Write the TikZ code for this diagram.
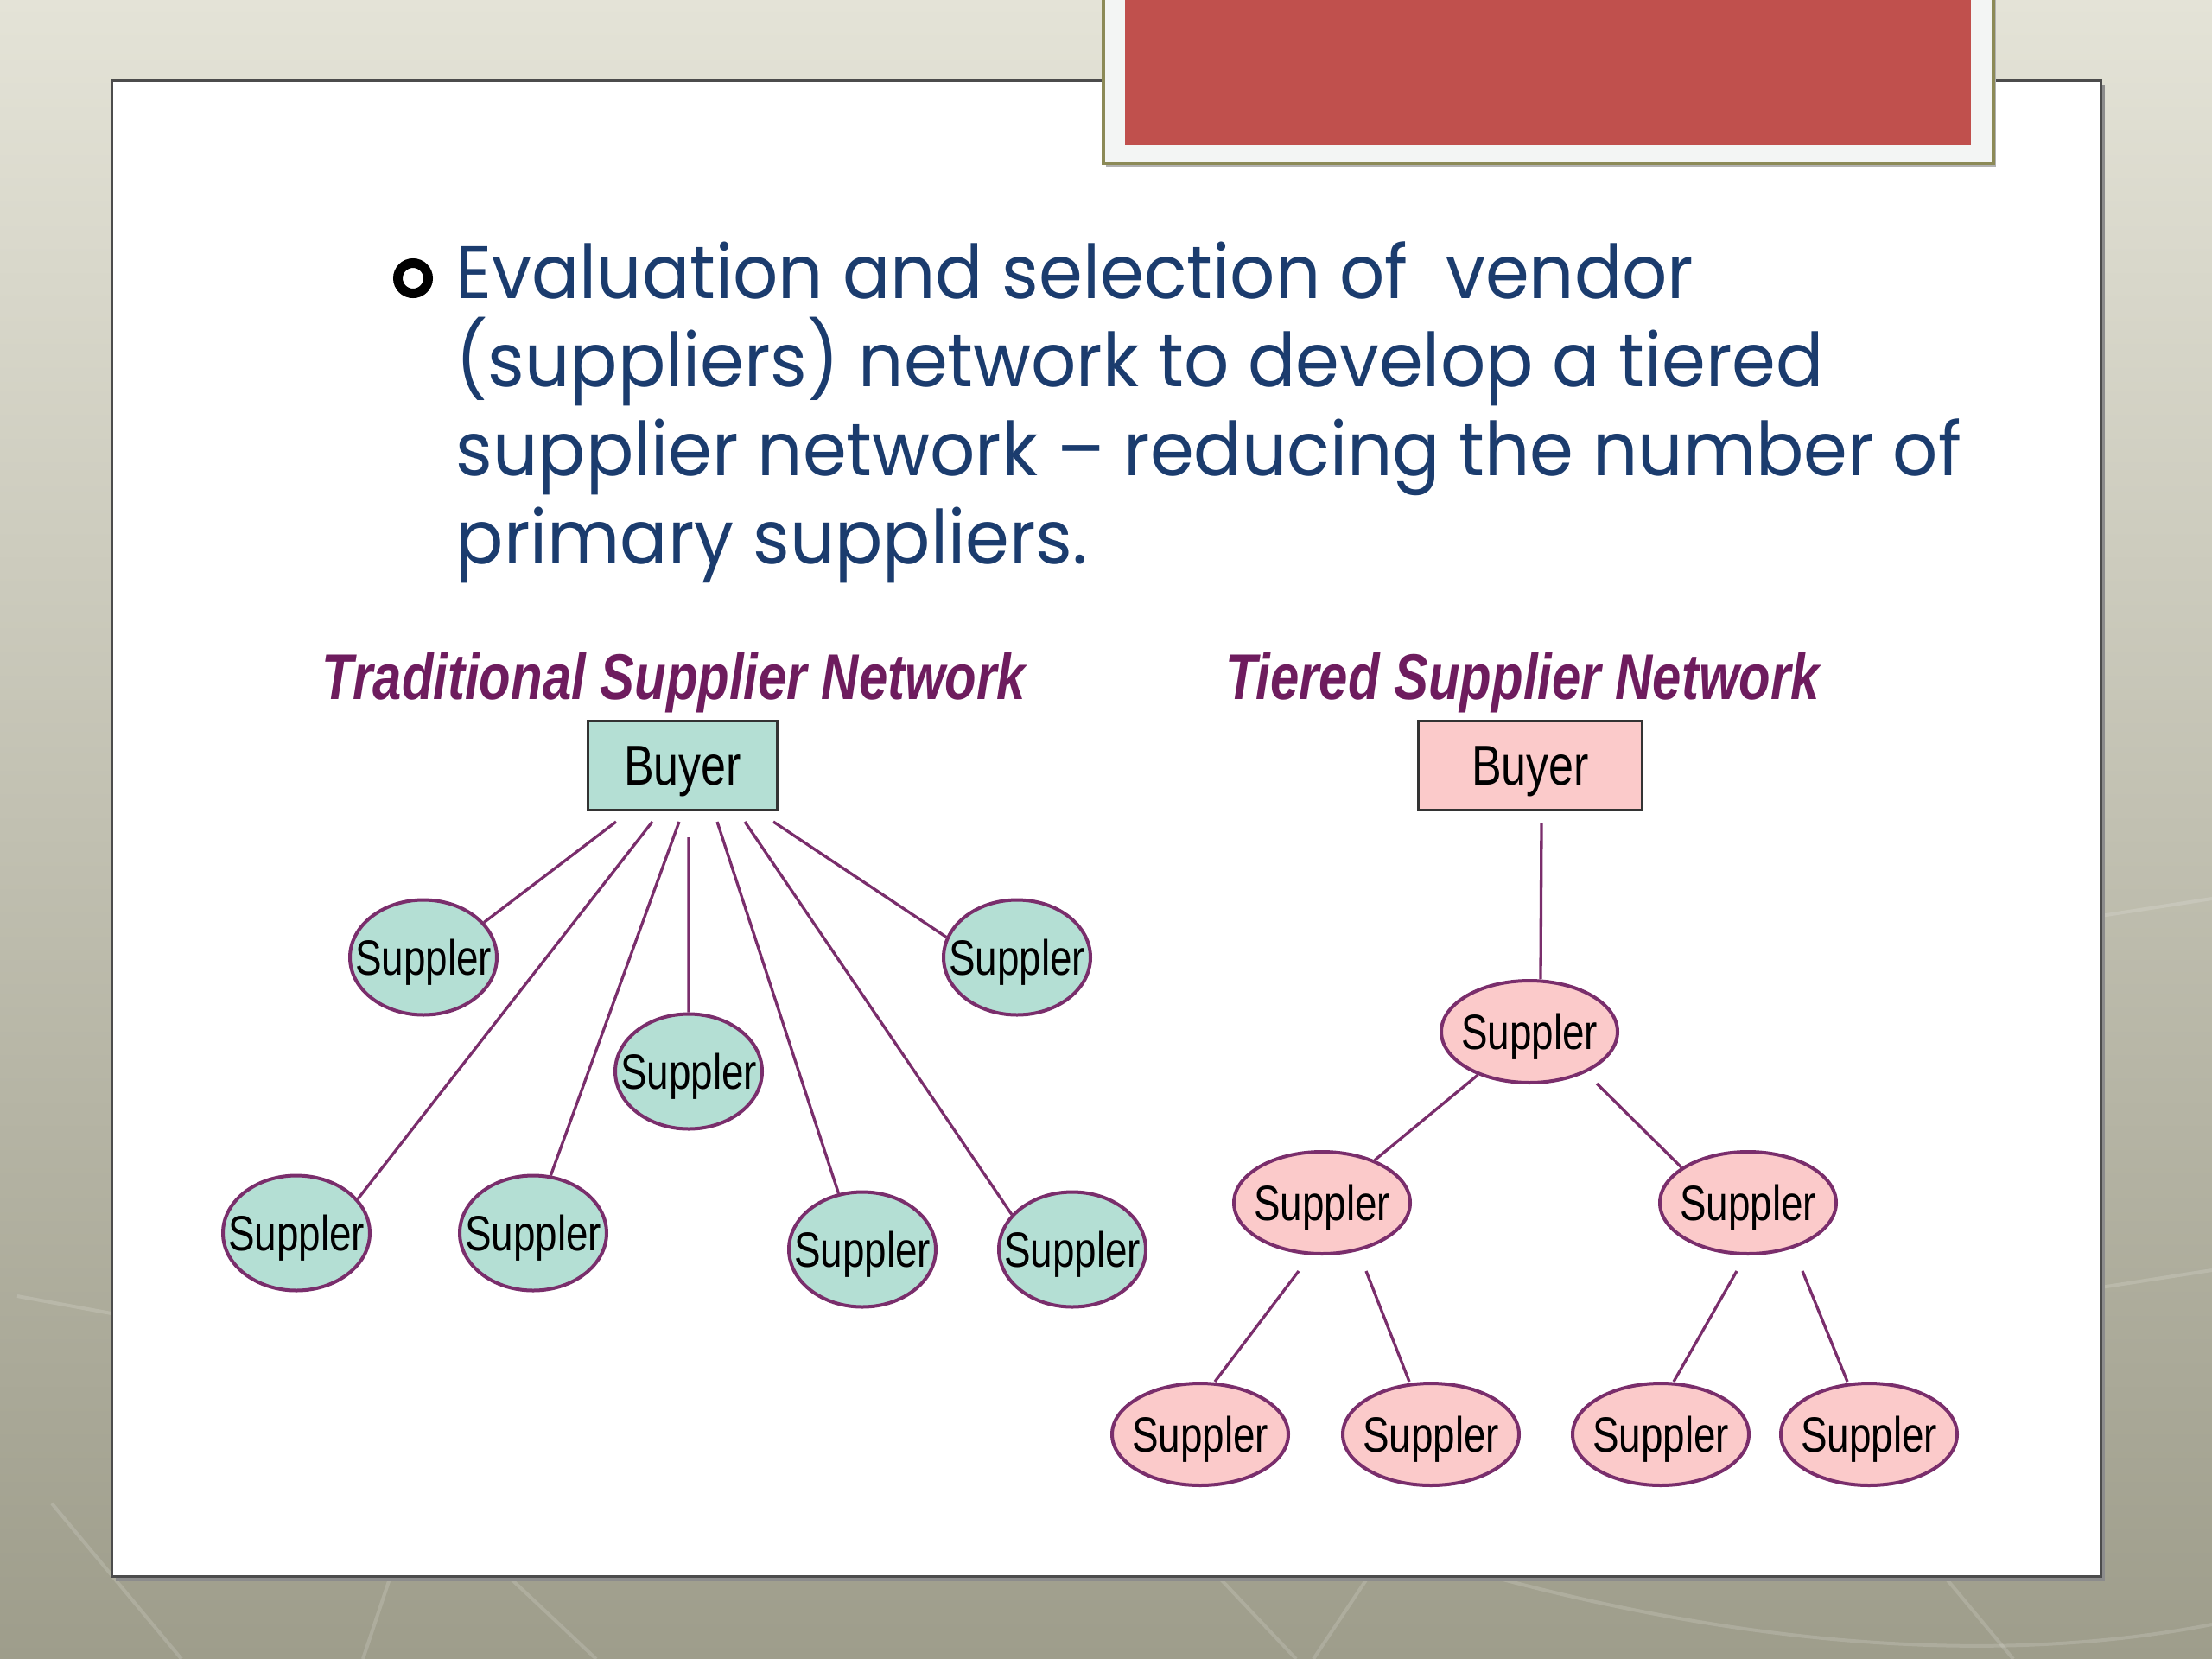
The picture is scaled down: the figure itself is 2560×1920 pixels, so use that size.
\documentclass[tikz,border=0pt]{standalone}
\usepackage{fontspec}
\usetikzlibrary{shapes.geometric,calc}
\newfontfamily\gothic[FakeStretch=0.95]{Poppins}
\newfontfamily\arialn[FakeStretch=0.8]{Liberation Sans}
\definecolor{bgtop}{HTML}{E4E3D7}
\definecolor{bgbot}{HTML}{9E9D8B}
\definecolor{textblue}{HTML}{1B3C6E}
\definecolor{titlemag}{HTML}{6E1C5E}
\definecolor{tealfill}{HTML}{B4DFD4}
\definecolor{pinkfill}{HTML}{FBCACA}
\definecolor{edgecol}{HTML}{7A2E6C}
\definecolor{boxline}{HTML}{333333}
\definecolor{titlered}{HTML}{C0504D}
\definecolor{framefill}{HTML}{F3F5F4}
\definecolor{frameline}{HTML}{8C8A57}
\newcommand\zw[1]{\makebox[0pt]{#1}}
\begin{document}
\begin{tikzpicture}[x=0.1mm,y=-0.1mm,
  buyerbox/.style={rectangle, draw=boxline, line width=0.3mm, minimum width=21.9mm, minimum height=10.3mm, inner sep=0pt, text depth=0pt, font=\arialn\fontsize{18.5}{20}\selectfont},
  supL/.style={ellipse, draw=edgecol, line width=0.4mm, fill=tealfill, minimum width=17mm, minimum height=13.3mm, inner sep=0pt, text depth=0pt, font=\arialn\fontsize{16.3}{18}\selectfont},
  supR/.style={ellipse, draw=edgecol, line width=0.4mm, fill=pinkfill, minimum width=20.4mm, minimum height=11.8mm, inner sep=0pt, text depth=0pt, font=\arialn\fontsize{16.3}{18}\selectfont},
  conn/.style={draw=edgecol, line width=0.33mm},
  nettitle/.style={anchor=base, inner sep=0pt, text=titlemag, font=\arialn\bfseries\itshape\fontsize{21.3}{24}\selectfont},
  bodyline/.style={anchor=base west, inner sep=0pt, text=textblue, font=\gothic\fontsize{24.5}{29}\selectfont},
  texture/.style={draw=white, opacity=0.15, line width=0.4mm}]
\useasboundingbox (0,0) rectangle (2560,1920);
% background
\shade[top color=bgtop, bottom color=bgbot] (0,0) rectangle (2560,1920);
\draw[texture] (60,1740) -- (210,1920);
\draw[texture] (480,1740) -- (420,1920);
\draw[texture] (520,1760) -- (690,1920);
\draw[texture] (1330,1740) -- (1500,1920);
\draw[texture] (1640,1740) -- (1520,1920);
\draw[texture] (2180,1740) -- (2330,1920);
\draw[texture] (1520,1760) .. controls (1800,1860) and (2200,1950) .. (2560,1880);
\draw[texture] (20,1500) -- (129,1520);
\draw[texture] (2431,1490) -- (2560,1470);
\draw[texture] (2431,1060) -- (2560,1040);
% panel
\fill[black!45] (134,98) rectangle (2436,1830);
\draw[fill=white, draw=black!70, line width=0.3mm] (129,93) rectangle (2431,1824);
% title bar
\fill[black!30] (1280,-5) rectangle (2310,193);
\draw[fill=framefill, draw=frameline, line width=0.4mm] (1277,-5) rectangle (2307,189);
\fill[titlered] (1302,-5) rectangle (2281,168);
% bullet
\draw[line width=1.1mm] (478,322) circle (1.75mm);
\node[bodyline] (l1) at (527,345) {Evaluation and selection of\ \ vendor};
\node[bodyline] (l2) at (527,447) {(suppliers) network to develop a tiered};
\node[bodyline] (l3) at (527,550) {supplier network – reducing the number of};
\node[bodyline] (l4) at (527,652) {primary suppliers.};
% titles
\node[nettitle] (tL) at (780,809) {Traditional Supplier Network};
\node[nettitle] (tR) at (1762,809) {Tiered Supplier Network};
% traditional network
\node[buyerbox, fill=tealfill] (bL) at (790,886) {Buyer};
\node[supL] (s1) at (490,1108) {\zw{Suppler}};
\node[supL] (s2) at (1177,1108) {\zw{Suppler}};
\node[supL] (s3) at (797,1240) {\zw{Suppler}};
\node[supL] (s4) at (343,1427) {\zw{Suppler}};
\node[supL] (s5) at (617,1427) {\zw{Suppler}};
\node[supL] (s6) at (998,1446) {\zw{Suppler}};
\node[supL] (s7) at (1241,1446) {\zw{Suppler}};
\draw[conn] ([xshift=-7.7mm,yshift=-1.2mm]bL.south) -- (s1.30);
\draw[conn] ([xshift=-3.5mm,yshift=-1.2mm]bL.south) -- (s4.29);
\draw[conn] ([xshift=-0.4mm,yshift=-1.2mm]bL.south) -- (s5.73);
\draw[conn] ([xshift=0.7mm,yshift=-3.0mm]bL.south) -- ([xshift=0.0mm]s3.north);
\draw[conn] ([xshift=4.0mm,yshift=-1.2mm]bL.south) -- (s6.113);
\draw[conn] ([xshift=7.2mm,yshift=-1.2mm]bL.south) -- (s7.150);
\draw[conn] ([xshift=10.5mm,yshift=-1.2mm]bL.south) -- (s2.164);
% tiered network
\node[buyerbox, fill=pinkfill, minimum width=25.9mm] (bR) at (1771,886) {Buyer};
\node[supR] (sT) at (1770,1194) {\zw{Suppler}};
\node[supR] (sML) at (1530,1392) {\zw{Suppler}};
\node[supR] (sMR) at (2023,1392) {\zw{Suppler}};
\node[supR] (sB1) at (1389,1660) {\zw{Suppler}};
\node[supR] (sB2) at (1656,1660) {\zw{Suppler}};
\node[supR] (sB3) at (1922,1660) {\zw{Suppler}};
\node[supR] (sB4) at (2163,1660) {\zw{Suppler}};
\draw[conn] ([xshift=1.3mm,yshift=-1.3mm]bR.south) -- ([xshift=1.3mm]sT.north);
\draw[conn] (sT.220) -- (sML.39);
\draw[conn] ([shift={(7.8mm,-6mm)}]sT.center) -- (sMR.152);
\draw[conn] ([xshift=-2.7mm,yshift=-1.8mm]sML.south) -- ([xshift=1.7mm]sB1.north);
\draw[conn] ([xshift=5.1mm,yshift=-1.8mm]sML.south) -- ([xshift=-2.5mm]sB2.north);
\draw[conn] ([xshift=-1.3mm,yshift=-1.8mm]sMR.south) -- ([xshift=1.5mm]sB3.north);
\draw[conn] ([xshift=6.3mm,yshift=-1.8mm]sMR.south) -- ([xshift=-2.5mm]sB4.north);
\end{tikzpicture}
\end{document}
